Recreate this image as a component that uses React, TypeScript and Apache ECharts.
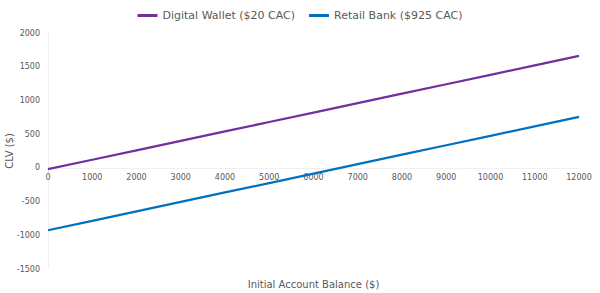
import React, { useEffect, useRef } from "react";
import * as echarts from "echarts";

const balances = ["0", "1000", "2000", "3000", "4000", "5000", "6000", "7000", "8000", "9000", "10000", "11000", "12000"];
const digitalWallet = [-20, 120, 260, 400, 540, 680, 820, 960, 1100, 1240, 1380, 1520, 1660];
const retailBank = [-925, -785, -645, -505, -365, -225, -85, 55, 195, 335, 475, 615, 755];
const seriesNames = ["Digital Wallet ($20 CAC)", "Retail Bank ($925 CAC)"];

const GRID_TOP = 33;
const GRID_BOTTOM = 24;
const CHART_H = 293;
const Y_MIN = -1500;
const Y_MAX = 2000;

export default function App() {
  const ref = useRef<HTMLDivElement>(null);
  useEffect(() => {
    const chart = echarts.init(ref.current!, null, { renderer: "svg" });
    const font = "'DejaVu Sans', sans-serif";
    const plotH = CHART_H - GRID_TOP - GRID_BOTTOM;
    const zeroFromBottom = (plotH * (0 - Y_MIN)) / (Y_MAX - Y_MIN);
    chart.setOption({
      animation: false,
      textStyle: { fontFamily: font },
      legend: {
        top: 5,
        left: "center",
        itemWidth: 20,
        itemHeight: 3,
        itemGap: 14,
        icon: "rect",
        textStyle: { fontSize: 11, color: "#595959", fontFamily: font },
        data: seriesNames,
      },
      grid: { left: 48, right: 21, top: GRID_TOP, bottom: GRID_BOTTOM, containLabel: false, outerBoundsMode: "none" },
      xAxis: [
        {
          type: "category",
          data: balances,
          boundaryGap: false,
          position: "bottom",
          offset: -zeroFromBottom,
          axisLine: { onZero: false, lineStyle: { color: "#f0f0f0" } },
          axisTick: { show: false },
          axisLabel: { fontSize: 8, color: "#595959", margin: 6 },
          splitLine: { show: false },
        },
        {
          type: "category",
          data: balances,
          boundaryGap: false,
          position: "bottom",
          name: "Initial Account Balance ($)",
          nameLocation: "middle",
          nameGap: 10,
          nameMoveOverlap: false,
          nameTextStyle: { fontSize: 10, color: "#595959" },
          axisLine: { show: false, onZero: false },
          axisTick: { show: false },
          axisLabel: { show: false },
          splitLine: { show: false },
        },
      ],
      yAxis: {
        type: "value",
        min: Y_MIN,
        max: Y_MAX,
        interval: 500,
        name: "CLV ($)",
        nameLocation: "middle",
        nameGap: 34,
        nameMoveOverlap: false,
        nameRotate: 90,
        nameTextStyle: { fontSize: 10, color: "#595959" },
        axisLine: { show: true, lineStyle: { color: "#f0f0f0" } },
        axisTick: { show: false },
        axisLabel: { fontSize: 8, color: "#595959", margin: 8, formatter: (v: number) => String(v) },
        splitLine: { show: false },
      },
      series: [
        {
          name: seriesNames[0],
          type: "line",
          data: digitalWallet,
          symbol: "none",
          lineStyle: { color: "#7030A0", width: 2.25 },
          itemStyle: { color: "#7030A0" },
        },
        {
          name: seriesNames[1],
          type: "line",
          data: retailBank,
          symbol: "none",
          lineStyle: { color: "#0070C0", width: 2.25 },
          itemStyle: { color: "#0070C0" },
        },
      ],
    });
    return () => chart.dispose();
  }, []);
  return <div ref={ref} style={{ width: 600, height: 293, position: "absolute", left: 0, top: 0 }} />;
}
